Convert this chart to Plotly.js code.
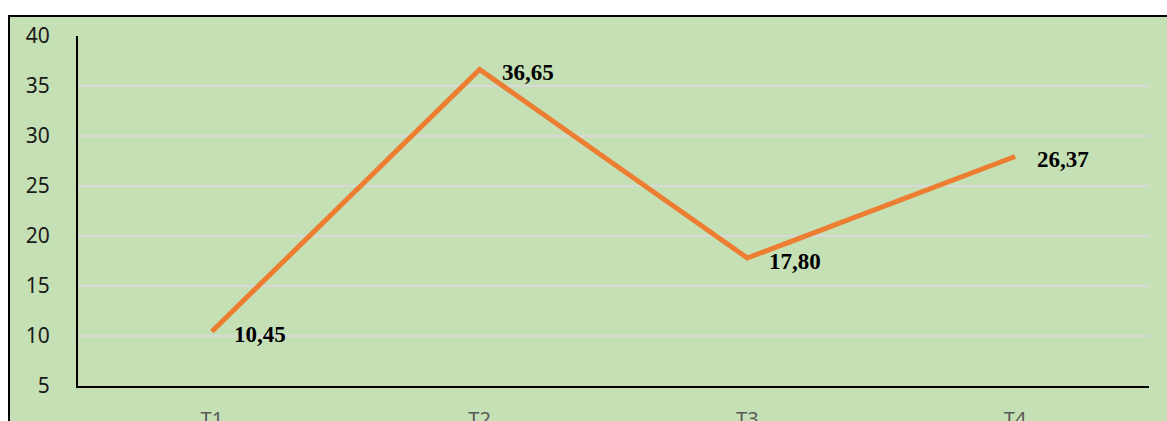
<!DOCTYPE html>
<html>
<head>
<meta charset="utf-8">
<script src="https://cdn.plot.ly/plotly-3.0.1.min.js"></script>
<style>
  html, body { margin: 0; padding: 0; background: #ffffff; width: 1167px; height: 421px; overflow: hidden; }
  #frame { position: absolute; left: 8px; top: 15px; width: 1200px; height: 460px; border: 2px solid #000; background: #C5E0B4; overflow: hidden; }
  #chart { position: absolute; left: 0; top: 0; }
</style>
</head>
<body>
<div id="frame"><div id="chart"></div></div>
<script>
const categories = ["T1", "T2", "T3", "T4"];
const values = [10.45, 36.65, 17.80, 27.95];
const valueLabels = ["10,45", "36,65", "17,80", "26,37"];
const yTicks = [5, 10, 15, 20, 25, 30, 35, 40];

const trace = {
  x: categories,
  y: values,
  type: "scatter",
  mode: "lines",
  line: { color: "#ED7D31", width: 5 },
  hoverinfo: "skip"
};

const annotations = categories.map((c, i) => ({
  x: c, y: values[i], xref: "x", yref: "y",
  text: valueLabels[i],
  showarrow: false,
  xanchor: "left", yanchor: "middle",
  xshift: 20, yshift: -3,
  font: { family: "Liberation Serif, Times New Roman, serif", size: 23, color: "#000000", weight: "bold" }
}));

const layout = {
  width: 1160,
  height: 429,
  margin: { l: 68, r: 21, t: 19, b: 60 },
  paper_bgcolor: "#C5E0B4",
  plot_bgcolor: "#C5E0B4",
  showlegend: false,
  xaxis: {
    type: "category",
    range: [-0.5, 3.5],
    showline: true, linecolor: "#000000", linewidth: 2,
    showgrid: false, zeroline: false, ticks: "",
    ticklabelstandoff: 14,
    tickfont: { family: "Noto Sans, sans-serif", size: 20, color: "#595959" }
  },
  yaxis: {
    range: [5, 40],
    tickvals: yTicks,
    ticktext: yTicks.map(String),
    showline: true, linecolor: "#000000", linewidth: 2,
    showgrid: true, gridcolor: "#D9D9D9", gridwidth: 2,
    zeroline: false, ticks: "",
    ticklabelstandoff: 22,
    tickfont: { family: "Noto Sans, sans-serif", size: 21, color: "#1a1a1a" }
  },
  annotations: annotations
};

Plotly.newPlot("chart", [trace], layout, { displayModeBar: false, staticPlot: true });
</script>
</body>
</html>
